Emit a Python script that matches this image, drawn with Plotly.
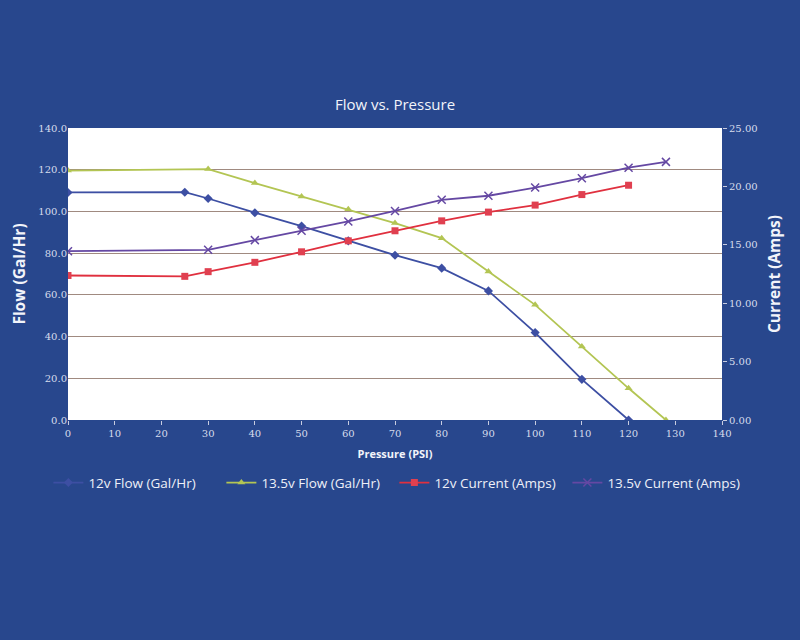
import plotly.graph_objects as go

pressure_12_flow = [0, 25, 30, 40, 50, 60, 70, 80, 90, 100, 110, 120]
flow_12 = [109.1, 109.2, 106.2, 99.4, 93.0, 85.9, 79.0, 72.8, 61.9, 41.9, 19.5, 0.0]

pressure_135_flow = [0, 30, 40, 50, 60, 70, 80, 90, 100, 110, 120, 128]
flow_135 = [119.6, 120.3, 113.6, 107.2, 101.1, 94.4, 87.2, 71.2, 55.2, 35.2, 15.2, 0.0]

pressure_12_cur = [0, 25, 30, 40, 50, 60, 70, 80, 90, 100, 110, 120]
current_12 = [12.37, 12.3, 12.7, 13.5, 14.4, 15.34, 16.2, 17.05, 17.8, 18.4, 19.3, 20.1]

pressure_135_cur = [0, 30, 40, 50, 60, 70, 80, 90, 100, 110, 120, 128]
current_135 = [14.45, 14.57, 15.4, 16.2, 17.0, 17.9, 18.85, 19.2, 19.9, 20.7, 21.6, 22.1]

x_ticks = list(range(0, 141, 10))
left_ticks = list(range(0, 141, 20))
right_ticks = [0, 5, 10, 15, 20, 25]

tick_font = dict(family="DejaVu Serif", size=10, color="#d6dcec")
label_font = dict(family="Open Sans", size=15.5, color="#f2f4fa")

fig = go.Figure()
fig.add_trace(go.Scatter(x=pressure_12_flow, y=flow_12, name="12v Flow (Gal/Hr)",
                         mode="lines+markers", line=dict(color="#3d4fa3", width=1.8),
                         marker=dict(symbol="diamond", size=7, color="#3d4fa3")))
fig.add_trace(go.Scatter(x=pressure_135_flow, y=flow_135, name="13.5v Flow (Gal/Hr)",
                         mode="lines+markers", line=dict(color="#b3c553", width=1.8),
                         marker=dict(symbol="triangle-up", size=7, color="#b3c553")))
fig.add_trace(go.Scatter(x=pressure_12_cur, y=current_12, name="12v Current (Amps)",
                         mode="lines+markers", line=dict(color="#e0303f", width=1.8),
                         marker=dict(symbol="square", size=7, color="#e04050"), yaxis="y2"))
fig.add_trace(go.Scatter(x=pressure_135_cur, y=current_135, name="13.5v Current (Amps)",
                         mode="lines+markers", line=dict(color="#6548a3", width=1.8),
                         marker=dict(symbol="x-thin", size=8, color="#6548a3",
                                     line=dict(width=1.5, color="#6548a3")), yaxis="y2"))

fig.update_layout(
    width=800, height=640,
    paper_bgcolor="#28478d",
    plot_bgcolor="#ffffff",
    margin=dict(l=68, r=78, t=128, b=220),
    title=dict(text="Flow vs. Pressure", x=395 / 800, xanchor="center",
               y=1 - 105 / 640, yanchor="middle",
               font=dict(family="Open Sans", size=15, color="#f2f4fa")),
    xaxis=dict(range=[0, 140], tickvals=x_ticks, showgrid=False, zeroline=False,
               ticks="outside", ticklen=4, tickcolor="#c8cce0", tickfont=tick_font,
               showline=False,
               title=dict(text="<b>Pressure (PSI)</b>", font=dict(family="Open Sans", size=11, color="#f2f4fa"),
                          standoff=12)),
    yaxis=dict(range=[0, 140], tickvals=left_ticks, tickformat=".1f", showgrid=True,
               gridcolor="#a08a80", gridwidth=1, zeroline=False, tickfont=tick_font,
               ticks="", title=dict(text="<b>Flow (Gal/Hr)</b>", font=label_font, standoff=8)),
    yaxis2=dict(range=[0, 25], tickvals=right_ticks, tickformat=".2f", overlaying="y",
                side="right", showgrid=False, zeroline=False, tickfont=tick_font,
                ticks="outside", ticklen=4, tickcolor="#c8cce0",
                title=dict(text="<b>Current (Amps)</b>", font=label_font, standoff=12)),
    legend=dict(orientation="h", x=-0.03, xanchor="left", y=-0.215, yanchor="middle",
                entrywidth=128, itemwidth=30,
                font=dict(family="Open Sans", size=13.5, color="#eef0f8"),
                bgcolor="rgba(0,0,0,0)"),
)

fig.write_html("out.html")
